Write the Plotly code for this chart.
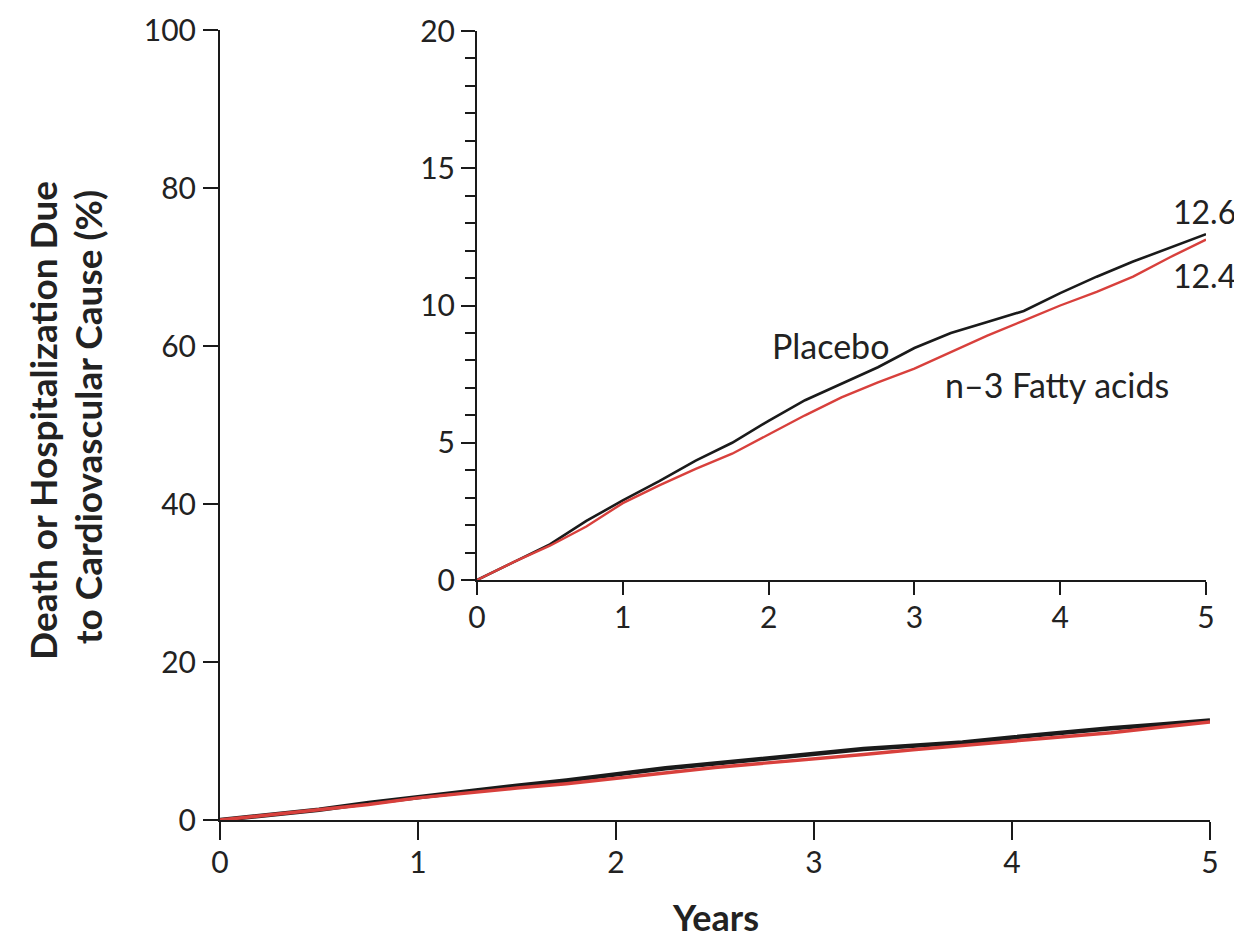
import plotly.graph_objects as go

# ---- data ----
years = [0, 0.25, 0.5, 0.75, 1, 1.25, 1.5, 1.75, 2, 2.25, 2.5, 2.75, 3,
         3.25, 3.5, 3.75, 4, 4.25, 4.5, 4.75, 5]
placebo = [0, 0.65, 1.3, 2.15, 2.9, 3.6, 4.35, 5.0, 5.8, 6.55, 7.15, 7.75,
           8.45, 9.0, 9.4, 9.8, 10.45, 11.05, 11.6, 12.1, 12.6]
n3_fatty = [0, 0.65, 1.25, 1.95, 2.8, 3.45, 4.05, 4.6, 5.3, 6.0, 6.65, 7.2,
            7.7, 8.3, 8.9, 9.45, 10.0, 10.5, 11.05, 11.75, 12.4]

main_xticks = [0, 1, 2, 3, 4, 5]
main_yticks = [0, 20, 40, 60, 80, 100]
inset_yticks = [0, 5, 10, 15, 20]
end_labels = ["12.6", "12.4"]

BLACK = "#1a1a1a"
RED = "#d8403c"
TXT = "#222222"
FONT = "Lato"

OFF = 8            # page body margin of the html page
W, H = 1242 - OFF, 944 - OFF


def px_x(p):
    return (p - OFF) / W


def px_y(p):
    return (H - (p - OFF)) / H


fig = go.Figure()

# main panel
fig.add_trace(go.Scatter(x=years, y=placebo, mode="lines", xaxis="x", yaxis="y",
                         line=dict(color=BLACK, width=4.5), showlegend=False))
fig.add_trace(go.Scatter(x=years, y=n3_fatty, mode="lines", xaxis="x", yaxis="y",
                         line=dict(color=RED, width=3.5), showlegend=False))
# inset panel
fig.add_trace(go.Scatter(x=years, y=placebo, mode="lines", xaxis="x2", yaxis="y2",
                         line=dict(color=BLACK, width=2.6), showlegend=False))
fig.add_trace(go.Scatter(x=years, y=n3_fatty, mode="lines", xaxis="x2", yaxis="y2",
                         line=dict(color=RED, width=2.4), showlegend=False))

axis_common = dict(showgrid=False, zeroline=False, showline=True, linecolor=BLACK,
                   linewidth=2, ticks="outside", tickcolor=BLACK, tickwidth=2,
                   automargin=False,
                   tickfont=dict(family=FONT, size=30, color=TXT), fixedrange=True)

fig.update_layout(
    width=W, height=H,
    margin=dict(l=0, r=0, t=0, b=0, autoexpand=False),
    paper_bgcolor="white", plot_bgcolor="rgba(0,0,0,0)",
    xaxis=dict(axis_common, domain=[px_x(220), px_x(1210)], range=[0, 5],
               tickvals=main_xticks, ticklen=18, anchor="y", ticklabelstandoff=-3),
    yaxis=dict(axis_common, domain=[px_y(820), px_y(30)], range=[0, 100],
               tickvals=main_yticks, ticklen=15, anchor="x", ticklabelstandoff=1),
    xaxis2=dict(axis_common, domain=[px_x(477), px_x(1206)], range=[0, 5],
                tickvals=main_xticks, ticklen=13, anchor="y2", ticklabelstandoff=-3),
    yaxis2=dict(axis_common, domain=[px_y(580), px_y(31)], range=[0, 20],
                tickvals=inset_yticks, ticklen=14, anchor="x2", ticklabelstandoff=0,
                minor=dict(tickvals=[v for v in range(0, 21) if v % 5],
                           ticks="outside", ticklen=10, tickwidth=2, tickcolor=BLACK)),
)

ann_font = dict(family=FONT, size=34, color=TXT)
annotations = [
    dict(text="Placebo", x=px_x(770), y=px_y(345), xref="paper", yref="paper",
         xanchor="left", yanchor="middle", showarrow=False, font=ann_font),
    dict(text="n\u20133 Fatty acids", x=px_x(943), y=px_y(384), xref="paper",
         yref="paper", xanchor="left", yanchor="middle", showarrow=False,
         font=ann_font),
    dict(text=end_labels[0], x=px_x(1238), y=px_y(211), xref="paper", yref="paper",
         xanchor="right", yanchor="middle", showarrow=False,
         font=dict(family=FONT, size=32, color=TXT)),
    dict(text=end_labels[1], x=px_x(1238), y=px_y(275), xref="paper", yref="paper",
         xanchor="right", yanchor="middle", showarrow=False,
         font=dict(family=FONT, size=32, color=TXT)),
    dict(text="<b>Death or Hospitalization Due</b>", x=px_x(42), y=px_y(421),
         xref="paper", yref="paper", textangle=-90, showarrow=False,
         xanchor="center", yanchor="middle",
         font=dict(family=FONT, size=37, color=TXT)),
    dict(text="<b>to Cardiovascular Cause (%)</b>", x=px_x(87), y=px_y(417),
         xref="paper", yref="paper", textangle=-90, showarrow=False,
         xanchor="center", yanchor="middle",
         font=dict(family=FONT, size=37, color=TXT)),
    dict(text="<b>Years</b>", x=px_x(716), y=px_y(941), xref="paper", yref="paper",
         xanchor="center", yanchor="bottom",
         showarrow=False, font=dict(family=FONT, size=36, color=TXT)),
]
fig.update_layout(annotations=annotations)

fig.write_html("out.html")
